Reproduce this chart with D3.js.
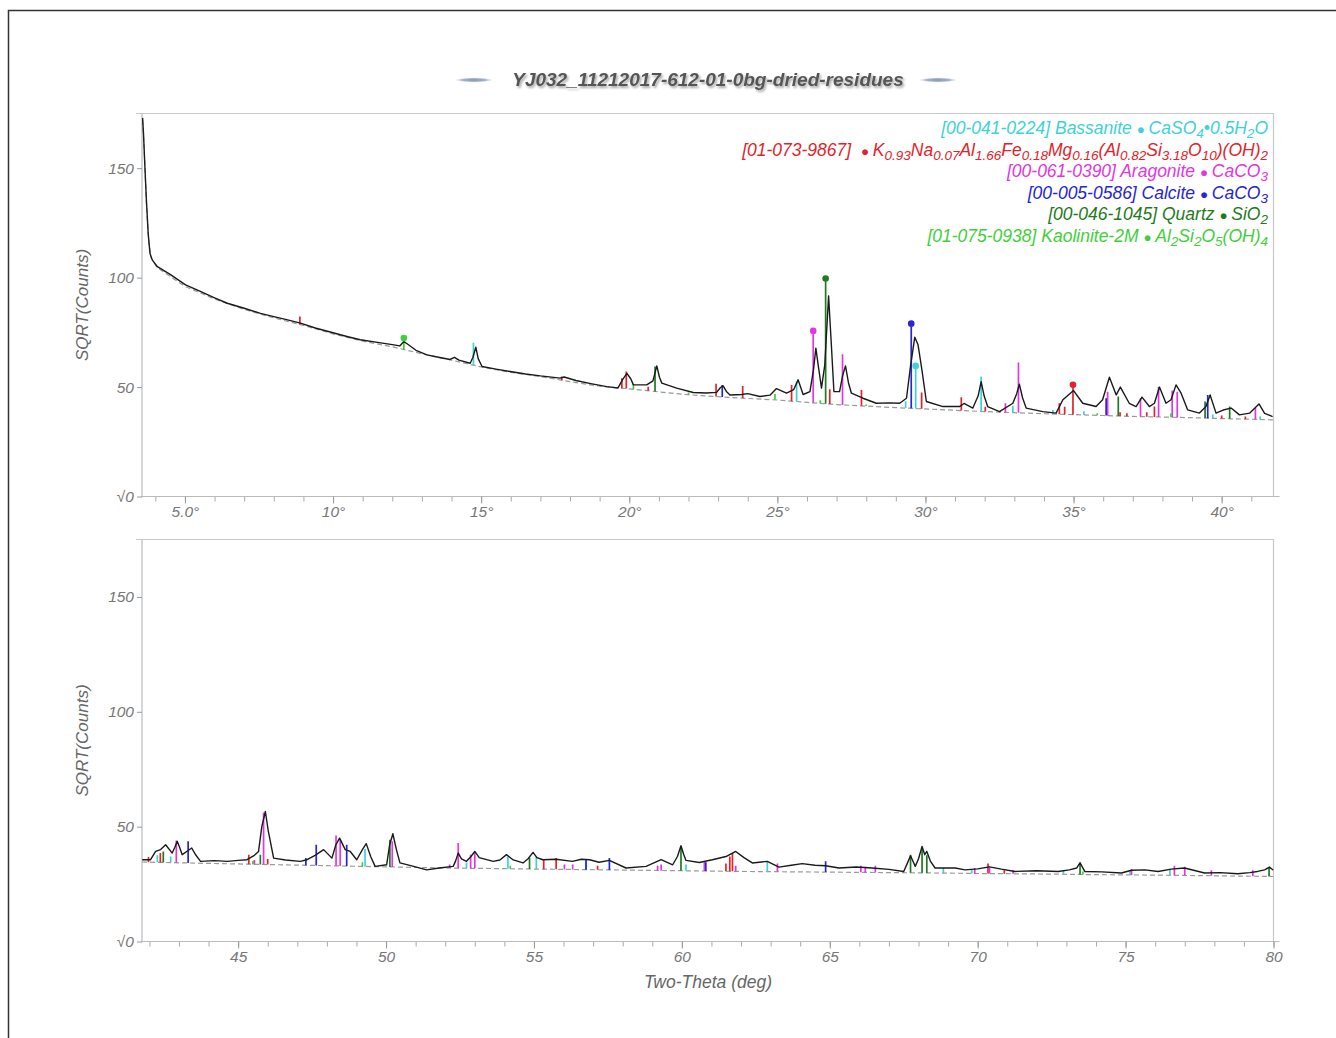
<html>
<head>
<meta charset="utf-8">
<script src="https://cdn.jsdelivr.net/npm/d3@7/dist/d3.min.js"></script>
<style>
body { margin: 0; background: #fff; }
text { font-family: "Liberation Sans", Arial, sans-serif; }
</style>
</head>
<body>
<script>

// ---- data: [two-theta, sqrt(counts)] ----
var titleText = "YJ032_11212017-612-01-0bg-dried-residues"
var upperDomain = [3.55, 41.75]
var lowerDomain = [41.75, 80]
var yTicks = [0, 50, 100, 150]
var yTickLabels = ["√0", "50", "100", "150"]
var upperTicks = [5, 10, 15, 20, 25, 30, 35, 40]
var upperTickLabels = ["5.0°", "10°", "15°", "20°", "25°", "30°", "35°", "40°"]
var lowerTicks = [45, 50, 55, 60, 65, 70, 75, 80]
var lowerTickLabels = ["45", "50", "55", "60", "65", "70", "75", "80"]

var traceUpper = [[3.57,173],[3.6,166],[3.65,150],[3.7,135],[3.76,120],[3.82,111],[3.9,108],[4.07,105],[4.5,101.5],[5.02,96.7],[5.5,93.8],[6.0,90.8],[6.43,88.3],[7.0,86.0],[7.55,83.7],[8.0,82.2],[8.5,80.6],[8.9,79.2],[9.4,77.0],[10.0,74.8],[10.5,73.0],[10.92,71.6],[11.5,70.4],[12.0,69.4],[12.25,68.8],[12.39,70.8],[12.5,69.8],[12.8,66.8],[13.17,64.7],[13.6,63.5],[13.95,62.6],[14.1,63.6],[14.25,62.3],[14.63,60.9],[14.72,63.5],[14.82,68.2],[14.9,63],[15.03,59.4],[15.5,58.2],[15.98,57.1],[16.5,56.0],[17.0,55.1],[17.67,54.1],[17.8,54.6],[18.2,53.0],[18.7,51.6],[19.24,50.2],[19.62,49.6],[19.78,53.5],[19.92,56.3],[20.05,53.8],[20.14,51.0],[20.59,51.0],[20.8,52.8],[20.93,59.7],[21.02,54.5],[21.1,51.8],[21.6,49.5],[22.16,47.5],[22.6,47.3],[22.95,47.6],[23.08,49.8],[23.17,50.5],[23.28,48.0],[23.4,46.4],[23.8,46.6],[24.0,47.0],[24.41,45.7],[24.75,46.3],[24.97,49.3],[25.31,47.2],[25.55,48.8],[25.7,53.3],[25.87,46.6],[26.1,47.9],[26.22,58],[26.3,67.8],[26.4,58],[26.49,49.5],[26.6,60],[26.73,91.6],[26.82,70],[26.91,47.9],[27.1,47.9],[27.2,55],[27.3,59.7],[27.4,52],[27.5,47.2],[27.89,44.9],[28.34,42.6],[28.8,42.8],[29.13,42.6],[29.36,44.9],[29.5,60],[29.64,72.8],[29.75,69.3],[29.88,57.9],[30.03,43.4],[30.59,41.1],[31.15,41.1],[31.3,42.5],[31.6,40.4],[31.78,46],[31.88,52.5],[31.98,46],[32.1,41.1],[32.5,38.8],[32.95,42.6],[33.08,47],[33.17,51.3],[33.28,45],[33.4,40.4],[33.96,38.8],[34.41,38.1],[34.64,44.2],[35.0,48.4],[35.31,42.6],[35.76,41.1],[35.98,44.2],[36.21,54.5],[36.44,46.4],[36.58,50.0],[36.88,42.6],[37.11,41.1],[37.31,45.4],[37.56,41.1],[37.73,42.6],[37.9,50.0],[38.12,42.6],[38.29,44.2],[38.46,51.0],[38.63,47.2],[38.85,39.6],[39.25,38.1],[39.47,41.1],[39.61,46.4],[39.81,38.1],[40.05,39.5],[40.32,40.4],[40.6,37.3],[40.95,38.1],[41.26,42.3],[41.45,38],[41.72,36.5]]

var traceLower = [[41.76,35.6],[42.04,35.6],[42.21,39.2],[42.38,40.0],[42.55,42.1],[42.77,38.5],[42.86,41],[42.94,43.6],[43.02,41],[43.11,37.8],[43.3,39.5],[43.43,40.7],[43.55,38],[43.73,34.9],[44.2,35.2],[44.63,34.9],[45.0,35.3],[45.3,35.6],[45.55,37.5],[45.69,39.2],[45.8,50],[45.92,56.6],[46.02,48],[46.2,36.3],[46.6,35.5],[47.1,34.9],[47.33,35.6],[47.6,37.5],[47.89,40.0],[48.17,36.3],[48.3,42],[48.43,45.0],[48.62,40.0],[48.79,39.2],[49.01,35.6],[49.2,40],[49.33,42.6],[49.48,37],[49.63,32.7],[50.02,33.4],[50.12,42],[50.23,46.9],[50.35,40],[50.47,34.2],[50.9,32.8],[51.37,31.2],[51.8,32],[52.27,32.7],[52.35,35],[52.44,38.5],[52.55,36],[52.72,34.9],[52.87,37],[53.0,39.2],[53.15,36.5],[53.62,34.9],[53.85,35.5],[54.07,37.8],[54.3,35.5],[54.63,34.2],[54.8,36],[54.97,38.8],[55.1,36.5],[55.3,35.6],[55.75,35.8],[56.3,34.9],[56.6,35.8],[56.88,35.6],[57.2,34.5],[57.55,35.3],[58.11,32.0],[58.79,32.7],[59.3,35.6],[59.69,33.4],[59.85,37],[59.97,41.7],[60.06,38],[60.14,35.3],[60.59,34.4],[61.03,35.6],[61.49,37.0],[61.82,39.2],[62.1,36.5],[62.38,34.2],[62.89,34.9],[63.28,32.4],[63.7,33.2],[64.07,33.9],[64.5,33.2],[64.86,33.0],[65.31,32.0],[65.9,32.4],[66.43,32.0],[67.0,31.4],[67.5,30.5],[67.62,34],[67.73,37.3],[67.89,32.7],[68.0,36],[68.12,41.4],[68.21,37.8],[68.28,39.2],[68.4,35],[68.56,32.0],[69.24,32.0],[69.57,31.2],[70.0,31.6],[70.4,32.5],[70.8,31.5],[71.26,30.5],[72.0,30.8],[72.72,30.5],[73.1,31.2],[73.35,32],[73.46,34.2],[73.62,30.5],[74.2,30.3],[74.86,29.8],[75.2,31],[75.65,31.2],[76.1,30.5],[76.54,31.5],[76.99,32.0],[77.3,31],[77.67,29.8],[78.2,30],[78.79,29.5],[79.2,30],[79.46,30.5],[79.7,31.2],[79.86,32.4],[80,31]]

var bgUpper = [[3.57,172],[3.62,160],[3.7,134],[3.78,116],[3.86,109],[4.07,104.5],[5,96],[6,90.2],[7,85.5],[8,81.6],[9,78.2],[10,74.3],[11,71],[12,68.4],[13,65.2],[14,62.3],[15,59.2],[16,56.7],[17,54.8],[18,52.5],[19,50.4],[20,49.2],[21,47.8],[22,46.5],[23,45.6],[24,44.8],[25,44.1],[26,43],[27,42],[28,41.3],[29,40.6],[30,40],[31,39.4],[32,38.8],[33,38.3],[34,37.8],[35,37.4],[36,37],[37,36.6],[38,36.3],[39,36],[40,35.6],[41,35.3],[41.75,35]]

var bgLower = [[41.75,34.6],[44,34],[46,33.5],[48,33],[50,32.5],[52,32],[54,31.7],[56,31.4],[58,31.1],[60,30.8],[62,30.5],[64,30.3],[66,30.1],[68,29.9],[70,29.6],[72,29.4],[74,29.1],[76,28.9],[78,28.6],[80,28.3]]

// reference lines per phase: [two-theta, top of stick]
var sticksBassanite = [[14.74,70.3],[25.65,52.5],[29.33,43.5],[29.67,58.3],[31.88,54.8],[32.95,41.5],[34.3,39.5],[35.35,39],[39.7,37.5],[41.3,36.5],[42.27,37.5],[42.72,37],[45.5,35],[49.29,40.3],[52.72,34.4],[54.12,37],[55.08,37],[56.76,34.5],[60.14,33.5],[62.89,34.9],[68.84,32],[69.8,31.5],[72.9,31],[75.15,31],[76.5,31.5]]
var sticksMica = [[8.88,82.2],[17.72,54.8],[19.75,54],[19.9,57.1],[20.64,50.2],[22.93,51.5],[23.83,50.5],[25.48,51],[26.77,49],[27.84,48.7],[29.87,47.5],[31.21,45.4],[32.02,41],[34.52,42.6],[34.7,41],[34.98,49.7],[36.57,38.5],[36.8,38],[37.47,38.5],[37.73,41.1],[40.0,37],[40.8,36.5],[41.97,36.8],[42.37,38.5],[45.36,37.8],[46.0,35.9],[55.33,35.5],[55.75,36.3],[57.15,33],[61.49,34],[61.62,37],[61.71,38.5],[70.35,34],[70.9,31]]
var sticksAragonite = [[26.21,74.3],[27.2,65],[32.7,42.6],[33.14,61.2],[36.15,47.9],[37.26,44.9],[37.87,50],[38.33,48.4],[38.5,47.9],[41.14,40.4],[42.91,44],[45.55,35.5],[45.86,56.2],[48.31,46.1],[48.45,44.3],[50.21,43.6],[52.15,33.5],[52.44,42.9],[52.86,37.8],[53.0,39],[56.03,33.5],[56.31,33.5],[59.18,33],[59.3,33.5],[60.76,35],[61.82,33],[63.23,34],[66.05,33],[66.2,32.5],[66.54,33],[69.9,32],[70.4,32],[71.2,31],[75.2,31.5],[76.65,33],[77.0,32.5],[77.9,31],[79.3,31]]
var sticksCalcite = [[23.14,51],[29.52,77.6],[36.1,44.9],[39.53,46.4],[43.31,43.6],[47.29,36.3],[47.64,42.1],[48.67,42.1],[56.76,35.6],[57.55,36.3],[60.81,34.5],[64.86,34.9]]
var sticksQuartz = [[20.87,59.4],[26.63,98.2],[36.51,45.7],[39.44,43.4],[40.27,41.1],[42.47,39.2],[45.75,37.8],[50.13,44.3],[54.85,36.5],[59.97,41.4],[67.73,37.8],[68.12,40.7],[68.28,37.5],[73.46,34.4],[79.85,32]]
var sticksKaolinite = [[12.39,71],[20.14,51.3],[22.0,47.5],[24.92,46.8],[26.45,44],[28.0,42],[35.8,38],[38.29,38],[45.5,35],[49.2,34.5],[54.2,33],[73.56,30.5]]

var phaseCards = ["[00-041-0224] Bassanite ", "[01-073-9867]  ", "[00-061-0390] Aragonite ", "[00-005-0586] Calcite ", "[00-046-1045] Quartz ", "[01-075-0938] Kaolinite-2M "]
var phaseFormulas = ["CaSO_{4}•0.5H_{2}O", "K_{0.93}Na_{0.07}Al_{1.66}Fe_{0.18}Mg_{0.16}(Al_{0.82}Si_{3.18}O_{10})(OH)_{2}", "CaCO_{3}", "CaCO_{3}", "SiO_{2}", "Al_{2}Si_{2}O_{5}(OH)_{4}"]
var phaseColors = ["#3ed2d6", "#e2232b", "#e236e0", "#2626d6", "#1f7a22", "#3fcf3a"]
var phaseSticks = [sticksBassanite, sticksMica, sticksAragonite, sticksCalcite, sticksQuartz, sticksKaolinite]

// ---- layout ----
var plotLeft = 142, plotRight = 1273.5
var panels = [
  {domain: upperDomain, top: 113.5, bottom: 496.5, trace: traceUpper, bg: bgUpper, ticks: upperTicks, labels: upperTickLabels, dots: true},
  {domain: lowerDomain, top: 539.5, bottom: 941.5, trace: traceLower, bg: bgLower, ticks: lowerTicks, labels: lowerTickLabels, dots: false}
]

var svg = d3.select("body").append("svg").attr("width", 1336).attr("height", 1038)

var defs = svg.append("defs")
var f = defs.append("filter").attr("id", "shadow").attr("x", "-5%").attr("y", "-40%").attr("width", "110%").attr("height", "180%")
f.append("feDropShadow").attr("dx", 1.5).attr("dy", 2).attr("stdDeviation", 1.2)
  .attr("flood-color", "#000").attr("flood-opacity", 0.35)
var g = defs.append("radialGradient").attr("id", "dash")
g.append("stop").attr("offset", "0%").attr("stop-color", "#8193b8")
g.append("stop").attr("offset", "60%").attr("stop-color", "#a9b5cf")
g.append("stop").attr("offset", "100%").attr("stop-color", "#e4e8f0").attr("stop-opacity", 0)

// outer frame (top and left)
svg.append("path").attr("d", "M8.5,1038 V10.5 H1336")
  .attr("fill", "none").attr("stroke", "#333").attr("stroke-width", 1.5)

// title
svg.append("text")
  .attr("x", 708).attr("y", 86).attr("text-anchor", "middle")
  .attr("font-size", "19px").attr("font-weight", "bold").attr("font-style", "italic")
  .attr("fill", "#555").attr("filter", "url(#shadow)")
  .text(titleText)
svg.selectAll(".dash").data([474, 938]).enter().append("ellipse")
  .attr("class", "dash").attr("cx", d => d).attr("cy", 80)
  .attr("rx", 20).attr("ry", 2.5).attr("fill", "url(#dash)")

function bgAt(bg, t) {
  var i = d3.bisector(d => d[0]).left(bg, t)
  if (i <= 0) return bg[0][1]
  if (i >= bg.length) return bg[bg.length - 1][1]
  var a = bg[i - 1], b = bg[i]
  return a[1] + (b[1] - a[1]) * (t - a[0]) / (b[0] - a[0])
}

panels.forEach(function(p, pi) {

var x = d3.scaleLinear().domain(p.domain).range([plotLeft, plotRight])
var y = d3.scaleLinear().domain([0, 175]).range([p.bottom, p.top])

defs.append("clipPath").attr("id", "clip" + pi).append("rect")
  .attr("x", plotLeft).attr("y", p.top).attr("width", plotRight - plotLeft).attr("height", p.bottom - p.top)

// frame top and right
svg.append("path")
  .attr("d", "M" + (plotLeft - 6) + "," + p.top + " H" + plotRight + " V" + p.bottom)
  .attr("fill", "none").attr("stroke", "#c8c8c8").attr("stroke-width", 1.2)

// x axis: minor ticks
svg.append("g")
  .attr("transform", "translate(0," + p.bottom + ")")
  .call(d3.axisBottom(x).tickValues(d3.range(Math.ceil(p.domain[0]), Math.floor(p.domain[1]) + 1)).tickSize(5))
  .call(a => a.select(".domain").remove())
  .call(a => a.selectAll(".tick text").remove())
  .call(a => a.selectAll(".tick line").attr("stroke", "#aaa"))

var xa = svg.append("g")
  .attr("transform", "translate(0," + p.bottom + ")")
  .call(d3.axisBottom(x).tickValues(p.ticks).tickSize(7).tickPadding(2)
    .tickFormat((d, i) => p.labels[i]))
xa.select(".domain").attr("stroke", "#bbb").attr("stroke-width", 1.2).attr("d", "M" + plotLeft + ",0H" + (plotRight + 6))
xa.selectAll(".tick line").attr("stroke", "#999")
xa.selectAll(".tick text").attr("fill", "#777").attr("font-size", "15.5px").attr("font-style", "italic")
  .attr("font-family", "Liberation Sans, Arial, sans-serif")

// y axis
var ya = svg.append("g")
  .attr("transform", "translate(" + plotLeft + ",0)")
  .call(d3.axisLeft(y).tickValues(yTicks).tickSize(5).tickPadding(3)
    .tickFormat((d, i) => yTickLabels[i]))
ya.select(".domain").attr("stroke", "#bbb").attr("stroke-width", 1.2).attr("d", "M0," + p.top + "V" + (p.bottom + 1))
ya.selectAll(".tick line").attr("stroke", "#999")
ya.selectAll(".tick text").attr("fill", "#777").attr("font-size", "15.5px").attr("font-style", "italic")
  .attr("font-family", "Liberation Sans, Arial, sans-serif")

svg.append("text")
  .attr("transform", "translate(88," + ((p.top + p.bottom) / 2) + ") rotate(-90)")
  .attr("text-anchor", "middle")
  .attr("font-size", "17px").attr("font-style", "italic").attr("fill", "#666")
  .text("SQRT(Counts)")

var plot = svg.append("g").attr("clip-path", "url(#clip" + pi + ")")

var line = d3.line().x(d => x(d[0])).y(d => y(d[1]))

// background
plot.append("path").datum(p.bg)
  .attr("d", line).attr("fill", "none")
  .attr("stroke", "#9a9a9a").attr("stroke-width", 1.2).attr("stroke-dasharray", "5,3")

// phase sticks
phaseSticks.forEach(function(sticks, k) {
  var inside = sticks.filter(d => d[0] >= p.domain[0] && d[0] <= p.domain[1])
  plot.selectAll(".stick" + k).data(inside).enter().append("line")
    .attr("class", "stick" + k)
    .attr("x1", d => x(d[0])).attr("x2", d => x(d[0]))
    .attr("y1", d => y(bgAt(p.bg, d[0]))).attr("y2", d => y(d[1]))
    .attr("stroke", phaseColors[k]).attr("stroke-width", 1.7)
})

// measured pattern
plot.append("path").datum(p.trace)
  .attr("d", line).attr("fill", "none")
  .attr("stroke", "#1a1a1a").attr("stroke-width", 1.4).attr("stroke-linejoin", "round")

// marker on the strongest line of each phase
if (p.dots) {
  phaseSticks.forEach(function(sticks, k) {
    var best = d3.greatest(sticks, d => d[1] - bgAt(d[0] < lowerDomain[0] ? bgUpper : bgLower, d[0]))
    if (best[0] > p.domain[1]) return
    svg.append("circle")
      .attr("cx", x(best[0])).attr("cy", y(best[1]) - 3)
      .attr("r", 3.3).attr("fill", phaseColors[k])
  })
}

})

svg.append("text")
  .attr("x", 708).attr("y", 988).attr("text-anchor", "middle")
  .attr("font-size", "17.5px").attr("font-style", "italic").attr("fill", "#666")
  .text("Two-Theta (deg)")

// legend with subscripts
function addFormula(t, s) {
  s.split(/(_\{[^}]*\})/).forEach(function(part) {
    if (part.startsWith("_{")) {
      t.append("tspan").attr("font-size", "13.5px").attr("baseline-shift", "-3.5").text(part.slice(2, -1))
    } else if (part.length) {
      t.append("tspan").text(part)
    }
  })
}

phaseCards.forEach(function(name, k) {
  var t = svg.append("text")
    .attr("x", 1268).attr("y", 134 + k * 21.5).attr("text-anchor", "end")
    .attr("font-size", "17.5px").attr("font-style", "italic").attr("fill", phaseColors[k])
    .attr("xml:space", "preserve")
  t.append("tspan").text(name)
  t.append("tspan").attr("font-size", "13.5px").text("● ")
  addFormula(t, phaseFormulas[k])
})

</script>
</body>
</html>
